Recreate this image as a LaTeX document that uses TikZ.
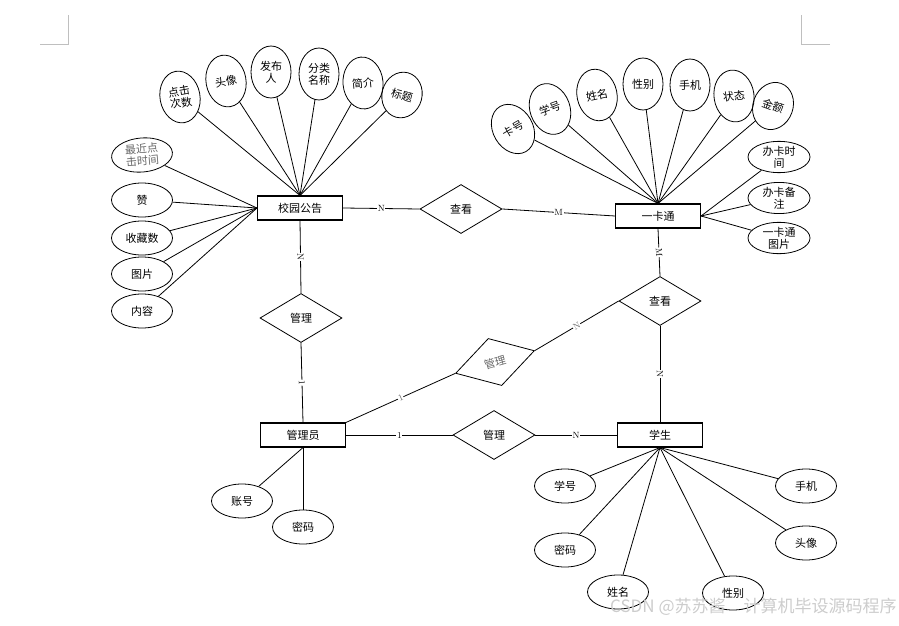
\documentclass[tikz,border=0pt]{standalone}
\usepackage{fontspec}
\newfontfamily\cjk{Noto Sans CJK SC}
\usepackage{tikz}
\usetikzlibrary{shapes.geometric}
\tikzset{>=latex}

\begin{document}
\begin{tikzpicture}[x=1pt, y=-1pt, line width=0.8pt]
                % entity = rectangle, rel = diamond, attrv/attrh = tall/wide ellipse
                \tikzstyle{every node}=[font=\cjk\fontsize{11}{12}\selectfont, inner sep=0pt]
                \tikzstyle{entity}=[rectangle, draw=black, line width=1.1pt, minimum width=85pt, minimum height=24pt]
                \tikzstyle{rel}=[diamond, draw=black, minimum width=82pt, minimum height=49pt]
                \tikzstyle{attrv}=[ellipse, draw=black, align=center, minimum width=40pt, minimum height=52pt]
                \tikzstyle{attrh}=[ellipse, draw=black, align=center, minimum width=61pt, minimum height=34pt]
                \tikzstyle{card}=[fill=white, inner sep=0.6pt, font=\rmfamily\fontsize{9}{9}\selectfont]
                \useasboundingbox (0,0) rectangle (899,626);

                % page corners
                \draw[gray!50, line width=0.8pt] (40,44) -- (68,44) -- (68,15);
                \draw[gray!50, line width=0.8pt] (830,44) -- (801,44) -- (801,15);

                \node[entity] (xygg) at (300,208) {校园公告};
                \node[entity] (ykt) at (658,216) {一卡通};
                \node[entity] (gly) at (303,435) {管理员};
                \node[entity] (xs) at (660,435) {学生};

                \node[rel] (ck1) at (461,209) {查看};
                \node[rel] (gl1) at (301,318) {管理};
                \node[rel] (ck2) at (660,301) {查看};
                \node[rel, rotate=16, text=black!60] (gl2) at (495,362) {管理};
                \node[rel] (gl3) at (494,435) {管理};

                % 校园公告
                \node[attrv, rotate=10] (djcs) at (180,97) {点击\\次数};
                \node[attrv, rotate=10] (tx1) at (226,81) {头像};
                \node[attrv] (fbr) at (271,72) {发布\\人};
                \node[attrv] (flmc) at (319,74) {分类\\名称};
                \node[attrv, rotate=5] (jj) at (363,83) {简介};
                \node[attrv, rotate=-15, minimum height=46pt] (bt) at (402,95) {标题};
                \node[attrh, rotate=5, text=black!60] (zjdj) at (142,155) {最近点\\击时间};
                \node[attrh] (zan) at (142,200) {赞};
                \node[attrh] (scs) at (142,238) {收藏数};
                \node[attrh] (tp) at (142,274) {图片};
                \node[attrh] (nr) at (142,311) {内容};
                \foreach \a in {djcs,tx1,fbr,flmc,jj,bt}
                        \draw (\a) -- (xygg.north);
                \foreach \a in {zjdj,zan,scs,tp,nr}
                        \draw (\a) -- (xygg.west);

                % 一卡通
                \node[attrv, rotate=30] (kh) at (513,129) {卡号};
                \node[attrv, rotate=20] (xh1) at (550,109) {学号};
                \node[attrv, rotate=12] (xm1) at (597,95) {姓名};
                \node[attrv] (xb1) at (643,84) {性别};
                \node[attrv] (sj1) at (690,85) {手机};
                \node[attrv, rotate=8] (zt) at (734,96) {状态};
                \node[attrv, rotate=-20, minimum height=48pt] (je) at (773,106) {金额};
                \node[attrh, minimum width=62pt, minimum height=31pt] (bksj) at (779,157) {办卡时\\间};
                \node[attrh, minimum width=62pt, minimum height=31pt] (bkbz) at (779,198) {办卡备\\注};
                \node[attrh, minimum width=62pt, minimum height=31pt] (ykttp) at (779,238) {一卡通\\图片};
                \foreach \a in {kh,xh1,xm1,xb1,sj1,zt,je}
                        \draw (\a) -- (ykt.north);
                \foreach \a in {bksj,bkbz,ykttp}
                        \draw (\a) -- (ykt.east);

                % 管理员
                \node[attrh] (zh) at (242,501) {账号};
                \node[attrh] (mm1) at (303,527) {密码};
                \draw (zh) -- (gly.south);
                \draw (mm1) -- (gly.south);

                % 学生
                \node[attrh] (xh2) at (565,486) {学号};
                \node[attrh] (mm2) at (565,550) {密码};
                \node[attrh] (xm2) at (618,592) {姓名};
                \node[attrh] (xb2) at (733,593) {性别};
                \node[attrh] (sj2) at (806,486) {手机};
                \node[attrh] (tx2) at (806,543) {头像};
                \foreach \a in {xh2,mm2,xm2,xb2,sj2,tx2}
                        \draw (\a) -- (xs.south);

                % relations
                \draw (xygg.east) -- node[card] {N} (ck1.west);
                \draw (ck1.east) -- node[card] {M} (ykt.west);
                \draw (xygg.south) -- node[card, sloped] {N} (gl1.north);
                \draw (gl1.south) -- node[card, sloped] {1} (gly.north);
                \draw (ykt.south) -- node[card, sloped] {M} (ck2.north);
                \draw (ck2.south) -- node[card, sloped] {N} (xs.north);
                \draw (gly.north east) -- node[card, sloped, text=black!60] {1} (gl2.west);
                \draw (gl2.east) -- node[card, sloped, text=black!60] {N} (ck2.west);
                \draw (gly.east) -- node[card] {1} (gl3.west);
                \draw (gl3.east) -- node[card] {N} (xs.west);

                \node[anchor=east, text=gray!40, font=\cjk\fontsize{17}{17}\selectfont] (wm) at (897,607) {CSDN @苏苏酱\hspace{18pt}计算机毕设源码程序};
\end{tikzpicture}
\end{document}
